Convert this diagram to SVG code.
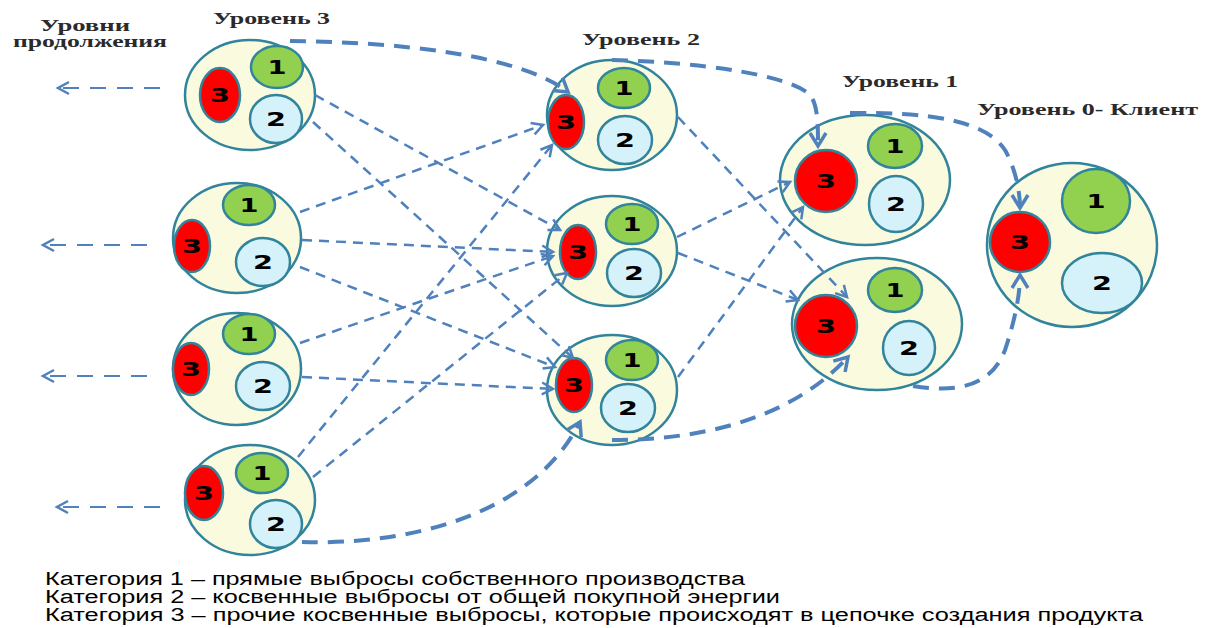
<svg xmlns="http://www.w3.org/2000/svg" width="1205" height="628" viewBox="0 0 1205 628">
<style>
.outer{fill:#FAFADF;stroke:#31849B;stroke-width:2.5}
.g{fill:#92D050;stroke:#31849B;stroke-width:2.5}
.b{fill:#D5F1FA;stroke:#31849B;stroke-width:2.5}
.r{fill:#FF0000;stroke:#31849B;stroke-width:2.5}
.n{font-family:"DejaVu Sans",sans-serif;font-weight:bold;font-size:19px;fill:#000;text-anchor:middle}
.lbl{font-family:"Liberation Serif",serif;font-weight:bold;font-size:16px;fill:#2a2a2a}
.leg{font-family:"Liberation Sans Narrow","Liberation Sans",sans-serif;font-size:18px;fill:#000}
.thin{fill:none;stroke:#4F81BD;stroke-width:2.5;stroke-dasharray:10 7;marker-end:url(#ah)}
.thick{fill:none;stroke:#4F81BD;stroke-width:4;stroke-dasharray:16 10;marker-end:url(#ahb)}
.cont{fill:none;stroke:#4F81BD;stroke-width:2.2;stroke-dasharray:16 11;marker-end:url(#ah)}
</style>
<defs>
<marker id="ah" markerUnits="userSpaceOnUse" orient="auto" markerWidth="20" markerHeight="20" refX="0" refY="0" viewBox="-12 -10 14 20" overflow="visible">
<path d="M -11 -6 L 0 0 L -11 6" fill="none" stroke="#4F81BD" stroke-width="2.5" stroke-dasharray="none"/>
</marker>
<marker id="ahb" markerUnits="userSpaceOnUse" orient="auto" markerWidth="24" markerHeight="24" refX="0" refY="0" viewBox="-14 -12 16 24" overflow="visible">
<path d="M -13 -8 L 0 0 L -13 8" fill="none" stroke="#4F81BD" stroke-width="3.5" stroke-dasharray="none"/>
</marker>
</defs>
<rect width="1205" height="628" fill="#fff"/>

<g id="labels">
<text class="lbl" x="40" y="31" textLength="90" lengthAdjust="spacingAndGlyphs">Уровни</text>
<text class="lbl" x="13" y="47" textLength="154" lengthAdjust="spacingAndGlyphs">продолжения</text>
<text class="lbl" x="213" y="24" textLength="117" lengthAdjust="spacingAndGlyphs">Уровень 3</text>
<text class="lbl" x="582" y="45" textLength="118" lengthAdjust="spacingAndGlyphs">Уровень 2</text>
<text class="lbl" x="842" y="87" textLength="116" lengthAdjust="spacingAndGlyphs">Уровень 1</text>
<text class="lbl" x="977" y="115" textLength="221" lengthAdjust="spacingAndGlyphs">Уровень 0- Клиент</text>
</g>

<g id="node-l3-1">
<ellipse class="outer" cx="250" cy="95" rx="65" ry="55"/>
<ellipse class="g" cx="277" cy="67" rx="26" ry="21"/>
<ellipse class="b" cx="276" cy="119" rx="26" ry="24"/>
<ellipse class="r" cx="220" cy="95" rx="20" ry="27"/>
<text class="n" x="277" y="74" textLength="19" lengthAdjust="spacingAndGlyphs">1</text>
<text class="n" x="276" y="126" textLength="20" lengthAdjust="spacingAndGlyphs">2</text>
<text class="n" x="220" y="102" textLength="20" lengthAdjust="spacingAndGlyphs">3</text>
</g>
<g id="node-l3-2">
<ellipse class="outer" cx="237" cy="238" rx="64" ry="55"/>
<ellipse class="g" cx="249" cy="205" rx="26" ry="20"/>
<ellipse class="b" cx="263" cy="262" rx="27" ry="24"/>
<ellipse class="r" cx="192" cy="246" rx="18" ry="26"/>
<text class="n" x="249" y="212" textLength="19" lengthAdjust="spacingAndGlyphs">1</text>
<text class="n" x="263" y="269" textLength="20" lengthAdjust="spacingAndGlyphs">2</text>
<text class="n" x="192" y="253" textLength="20" lengthAdjust="spacingAndGlyphs">3</text>
</g>
<g id="node-l3-3">
<ellipse class="outer" cx="237" cy="369" rx="64" ry="56"/>
<ellipse class="g" cx="249" cy="334" rx="26" ry="20"/>
<ellipse class="b" cx="263" cy="386" rx="27" ry="24"/>
<ellipse class="r" cx="191" cy="369" rx="18" ry="26"/>
<text class="n" x="249" y="341" textLength="19" lengthAdjust="spacingAndGlyphs">1</text>
<text class="n" x="263" y="393" textLength="20" lengthAdjust="spacingAndGlyphs">2</text>
<text class="n" x="191" y="376" textLength="20" lengthAdjust="spacingAndGlyphs">3</text>
</g>
<g id="node-l3-4">
<ellipse class="outer" cx="250" cy="500" rx="65" ry="55"/>
<ellipse class="g" cx="262" cy="473" rx="26" ry="20"/>
<ellipse class="b" cx="276" cy="524" rx="26" ry="24"/>
<ellipse class="r" cx="204" cy="493" rx="19" ry="27"/>
<text class="n" x="262" y="480" textLength="19" lengthAdjust="spacingAndGlyphs">1</text>
<text class="n" x="276" y="531" textLength="20" lengthAdjust="spacingAndGlyphs">2</text>
<text class="n" x="204" y="500" textLength="20" lengthAdjust="spacingAndGlyphs">3</text>
</g>

<g id="node-l2-1">
<ellipse class="outer" cx="612" cy="115" rx="65" ry="55"/>
<ellipse class="g" cx="624" cy="88" rx="26" ry="20"/>
<ellipse class="b" cx="625" cy="140" rx="27" ry="24"/>
<ellipse class="r" cx="566" cy="122" rx="18" ry="27"/>
<text class="n" x="624" y="95" textLength="19" lengthAdjust="spacingAndGlyphs">1</text>
<text class="n" x="625" y="147" textLength="20" lengthAdjust="spacingAndGlyphs">2</text>
<text class="n" x="566" y="129" textLength="20" lengthAdjust="spacingAndGlyphs">3</text>
</g>
<g id="node-l2-2">
<ellipse class="outer" cx="612" cy="251" rx="65" ry="55"/>
<ellipse class="g" cx="632" cy="224" rx="26" ry="20"/>
<ellipse class="b" cx="634" cy="273" rx="27" ry="24"/>
<ellipse class="r" cx="578" cy="252" rx="18" ry="27"/>
<text class="n" x="632" y="231" textLength="19" lengthAdjust="spacingAndGlyphs">1</text>
<text class="n" x="634" y="280" textLength="20" lengthAdjust="spacingAndGlyphs">2</text>
<text class="n" x="578" y="259" textLength="20" lengthAdjust="spacingAndGlyphs">3</text>
</g>
<g id="node-l2-3">
<ellipse class="outer" cx="612" cy="390" rx="65" ry="55"/>
<ellipse class="g" cx="632" cy="360" rx="26" ry="20"/>
<ellipse class="b" cx="628" cy="408" rx="27" ry="24"/>
<ellipse class="r" cx="574" cy="385" rx="18" ry="27"/>
<text class="n" x="632" y="367" textLength="19" lengthAdjust="spacingAndGlyphs">1</text>
<text class="n" x="628" y="415" textLength="20" lengthAdjust="spacingAndGlyphs">2</text>
<text class="n" x="574" y="392" textLength="20" lengthAdjust="spacingAndGlyphs">3</text>
</g>

<g id="node-l1-1">
<ellipse class="outer" cx="865" cy="180" rx="85" ry="65"/>
<ellipse class="g" cx="895" cy="146" rx="27" ry="22"/>
<ellipse class="b" cx="896" cy="204" rx="27" ry="28"/>
<ellipse class="r" cx="826" cy="181" rx="31" ry="31"/>
<text class="n" x="895" y="153" textLength="19" lengthAdjust="spacingAndGlyphs">1</text>
<text class="n" x="896" y="211" textLength="20" lengthAdjust="spacingAndGlyphs">2</text>
<text class="n" x="826" y="188" textLength="20" lengthAdjust="spacingAndGlyphs">3</text>
</g>
<g id="node-l1-2">
<ellipse class="outer" cx="877" cy="324" rx="85" ry="66"/>
<ellipse class="g" cx="895" cy="290" rx="27" ry="22"/>
<ellipse class="b" cx="909" cy="348" rx="26" ry="27"/>
<ellipse class="r" cx="826" cy="326" rx="31" ry="31"/>
<text class="n" x="895" y="297" textLength="19" lengthAdjust="spacingAndGlyphs">1</text>
<text class="n" x="909" y="355" textLength="20" lengthAdjust="spacingAndGlyphs">2</text>
<text class="n" x="826" y="333" textLength="20" lengthAdjust="spacingAndGlyphs">3</text>
</g>

<g id="node-client">
<ellipse class="outer" cx="1072" cy="245" rx="85" ry="82"/>
<ellipse class="g" cx="1096" cy="201" rx="34" ry="32"/>
<ellipse class="b" cx="1102" cy="283" rx="40" ry="30"/>
<ellipse class="r" cx="1020" cy="242" rx="30" ry="30"/>
<text class="n" x="1096" y="208" textLength="19" lengthAdjust="spacingAndGlyphs">1</text>
<text class="n" x="1102" y="290" textLength="20" lengthAdjust="spacingAndGlyphs">2</text>
<text class="n" x="1020" y="249" textLength="20" lengthAdjust="spacingAndGlyphs">3</text>
</g>

<g id="connectors">
<path class="cont" d="M 160 88 L 58 88"/>
<path class="cont" d="M 147 245 L 43 245"/>
<path class="cont" d="M 147 376 L 43 376"/>
<path class="cont" d="M 160 507 L 57 507"/>

<path class="thin" d="M 315 95 L 560 230"/>
<path class="thin" d="M 313 122 L 573 358"/>
<path class="thin" d="M 300 212 L 543 125"/>
<path class="thin" d="M 302 240 L 553 252"/>
<path class="thin" d="M 300 267 L 555 367"/>
<path class="thin" d="M 300 343 L 553 256"/>
<path class="thin" d="M 302 377 L 553 389"/>
<path class="thin" d="M 298 457 L 552 145"/>
<path class="thin" d="M 313 477 L 567 273"/>
<path class="thin" d="M 678 117 L 847 297"/>
<path class="thin" d="M 677 237 L 790 182"/>
<path class="thin" d="M 678 253 L 798 300"/>
<path class="thin" d="M 678 377 L 803 207"/>

<path class="thick" d="M 290 41 C 400 42, 520 55, 568 92"/>
<path class="thick" d="M 612 60 C 700 62, 790 75, 810 95 C 818 105, 818 125, 818 146"/>
<path class="thick" d="M 850 113 C 930 112, 985 120, 1005 150 C 1015 168, 1020 190, 1020 208"/>
<path class="thick" d="M 302 542 C 400 545, 530 520, 580 422"/>
<path class="thick" d="M 612 440 C 700 440, 790 420, 848 357"/>
<path class="thick" d="M 913 386 C 950 392, 990 390, 1005 350 C 1015 320, 1020 295, 1020 275"/>
</g>

<g id="legend">
<text class="leg" x="45" y="585" textLength="700" lengthAdjust="spacingAndGlyphs">Категория 1 – прямые выбросы собственного производства</text>
<text class="leg" x="45" y="603" textLength="735" lengthAdjust="spacingAndGlyphs">Категория 2 – косвенные выбросы от общей покупной энергии</text>
<text class="leg" x="45" y="621" textLength="1098" lengthAdjust="spacingAndGlyphs">Категория 3 – прочие косвенные выбросы, которые происходят в цепочке создания продукта</text>
</g>
</svg>
